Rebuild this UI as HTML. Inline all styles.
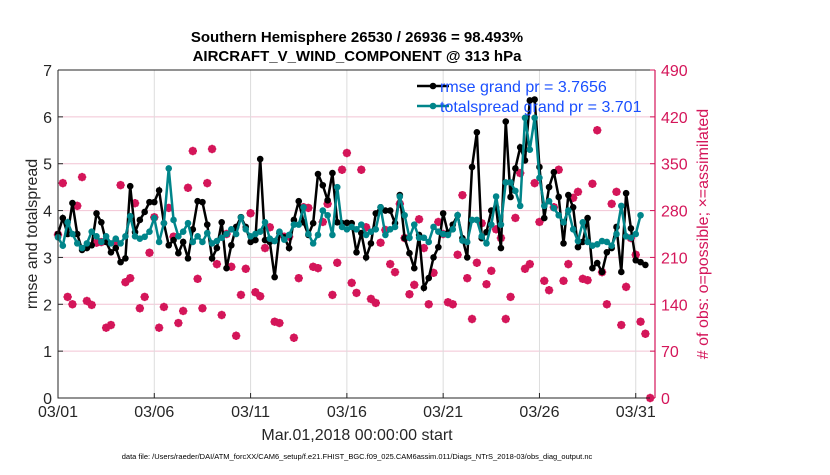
<!DOCTYPE html>
<html><head><meta charset="utf-8"><style>
body{margin:0;background:#fff;width:830px;height:470px;overflow:hidden}
svg{font-family:"Liberation Sans",sans-serif}
</style></head><body>
<svg id="c" width="830" height="470"></svg>
<script>
const dateLabels=["03/01","03/06","03/11","03/16","03/21","03/26","03/31"];
const dateDays=[0,5,10,15,20,25,30];
const leftTicks=[0,1,2,3,4,5,6,7];
const rightTicks=[0,70,140,210,280,350,420,490];
const rmse=[3.5,3.84,3.5,4.16,3.5,3.16,3.2,3.26,3.94,3.75,
3.33,3.11,3.2,2.9,2.98,4.52,3.54,3.8,3.97,4.18,
4.18,4.43,3.73,3.26,3.37,3.09,3.33,2.98,3.6,4.2,4.18,
3.7,2.98,3.2,3.75,2.77,3.26,3.65,3.86,3.65,3.33,
3.37,5.1,3.37,3.33,2.58,3.52,3.43,3.2,3.8,4.2,
3.75,3.48,3.73,4.78,4.54,4.22,4.8,3.75,3.73,3.74,
3.73,3.11,3.52,3.0,3.3,3.94,4.07,4.0,4.0,3.73,
4.33,3.41,3.09,2.77,3.48,2.35,2.56,3.0,3.22,3.94,
3.52,3.7,3.9,3.41,3.0,4.93,5.67,3.41,3.54,4.0,
4.07,3.2,5.9,4.29,4.9,5.35,5.07,6.35,6.37,4.93,
3.84,4.5,4.82,4.29,3.3,4.33,4.07,3.22,3.33,3.84,
2.77,2.88,2.69,3.11,3.2,3.65,2.69,4.37,3.62,2.94,2.9,2.84];
const spread=[3.43,3.25,3.75,3.5,3.3,3.2,3.3,3.55,3.45,3.33,3.45,3.3,3.4,3.3,3.45,3.88,3.45,3.4,3.44,3.55,3.84,3.33,3.73,4.9,3.8,3.45,3.55,3.73,3.33,3.45,3.33,3.52,
3.3,3.35,3.42,3.5,3.6,3.5,3.85,3.6,3.45,3.5,3.55,3.75,3.4,3.35,3.55,3.38,3.48,3.7,3.7,4.07,3.5,3.3,3.48,4.0,3.9,3.48,4.5,3.65,3.6,3.65,3.6,
3.7,3.48,3.55,3.6,4.07,3.48,3.6,3.65,4.3,3.9,3.42,3.7,3.42,3.42,3.33,3.65,3.55,3.5,3.48,3.6,3.9,3.36,3.33,3.8,3.8,3.45,3.3,3.7,4.3,3.7,4.6,
4.6,4.42,4.1,5.98,5.3,5.98,4.7,4.1,4.2,4.05,3.9,3.75,4.0,3.6,3.35,3.75,3.33,3.25,3.28,3.35,3.33,3.25,3.5,4.1,3.45,3.42,3.5,3.9];
const obs=[244,321,151,140,287,330,145,139,232,233,105,109,233,318,173,179,291,134,151,217,270,105,136,284,241,112,130,314,369,178,
134,321,372,200,124,245,196,93,154,193,276,158,152,224,255,114,112,241,241,90,179,285,284,196,194,263,290,154,202,341,366,172,
157,341,255,148,142,232,251,200,188,290,239,155,169,267,224,140,187,263,245,143,140,214,303,179,118,202,261,170,190,252,239,
118,151,269,336,193,200,321,263,175,161,285,341,175,200,299,308,178,176,320,400,188,140,290,308,109,166,239,214,114,96,0];
const X0=58,X1=655,Y0=398,Y1=70,DAYMAX=31;
const xs=d=>X0+d*(X1-X0)/DAYMAX;
const yl=v=>Y0-v*(Y0-Y1)/7;
const yr=v=>Y0-v*(Y0-Y1)/490;
const NS="http://www.w3.org/2000/svg";
const svg=document.getElementById('c');
function mk(t,a,p){const e=document.createElementNS(NS,t);for(const k in a)e.setAttribute(k,a[k]);(p||svg).appendChild(e);return e;}
const RED="#d41559",TEAL="#00858a";
const bg=mk('rect',{x:X0,y:Y1,width:X1-X0,height:Y0-Y1,fill:'#fff'});


rightTicks.forEach(t=>{const g=mk('line',{x1:X0,x2:X1,y1:yr(t),y2:yr(t),stroke:'#f2c4d4','stroke-width':1});

});
dateDays.forEach(d=>{const g=mk('line',{x1:xs(d),x2:xs(d),y1:Y1,y2:Y0,stroke:'#dcdcdc','stroke-width':1});

});
// legend markers (under data)
const lg=mk('g',{});


mk('line',{x1:417,x2:449,y1:86,y2:86,stroke:'#000','stroke-width':2.5},lg);
mk('circle',{cx:433,cy:86,r:3.3,fill:'#000'},lg);
mk('line',{x1:417,x2:449,y1:106,y2:106,stroke:TEAL,'stroke-width':2.5},lg);
mk('circle',{cx:433,cy:106,r:3.3,fill:TEAL},lg);
obs.forEach((v,i)=>{const cx=xs(i*0.25),cy=yr(v);
const g=mk('g',{});


mk('circle',{cx:cx,cy:cy,r:3.2,fill:'none',stroke:RED,'stroke-width':1.6},g);
const s=4.2;
mk('path',{d:`M${cx-s} ${cy}H${cx+s}M${cx} ${cy-s}V${cy+s}M${cx-3} ${cy-3}L${cx+3} ${cy+3}M${cx-3} ${cy+3}L${cx+3} ${cy-3}`,stroke:RED,'stroke-width':1.8},g);
});
function series(arr,col,name){
const g=mk('g',{});


mk('polyline',{points:arr.map((v,i)=>xs(i*0.25)+','+yl(v)).join(' '),fill:'none',stroke:col,'stroke-width':2.5},g);
arr.forEach((v,i)=>{const c=mk('circle',{cx:xs(i*0.25),cy:yl(v),r:3.3,fill:col},g);

});
}
series(rmse,'#000','rmse-line');
series(spread,TEAL,'totalspread-line');
const ax=mk('path',{d:`M${X0} ${Y1}V${Y0}H${X1}M${X0} ${Y1}H${X1}`,stroke:'#262626','stroke-width':1,fill:'none'});


const rax=mk('line',{x1:X1,x2:X1,y1:Y1,y2:Y0,stroke:RED,'stroke-width':1.2});


leftTicks.forEach(t=>{mk('line',{x1:X0,x2:X0+5,y1:yl(t),y2:yl(t),stroke:'#262626'});
const tx=mk('text',{x:X0-6,y:yl(t)+6,'text-anchor':'end','font-size':16,fill:'#262626'});tx.textContent=t;

});
rightTicks.forEach(t=>{mk('line',{x1:X1-5,x2:X1,y1:yr(t),y2:yr(t),stroke:RED});
const tx=mk('text',{x:X1+6,y:yr(t)+6,'font-size':16,fill:RED});tx.textContent=t;

});
dateDays.forEach((d,i)=>{mk('line',{x1:xs(d),x2:xs(d),y1:Y0,y2:Y0-5,stroke:'#262626'});
const tx=mk('text',{x:xs(d),y:417,'text-anchor':'middle','font-size':16,fill:'#262626'});tx.textContent=dateLabels[i];

});
</script>
<svg width="830" height="470" style="position:absolute;left:0;top:0">
<text x="440" y="92" font-size="16" fill="#1a4fff">rmse grand pr = 3.7656</text>
<text x="440" y="112" font-size="16" fill="#1a4fff">totalspread grand pr = 3.701</text>
<text x="357" y="42" font-size="15" font-weight="bold" text-anchor="middle" fill="#000">Southern Hemisphere 26530 / 26936 = 98.493%</text>
<text x="357" y="61" font-size="15" font-weight="bold" text-anchor="middle" fill="#000">AIRCRAFT_V_WIND_COMPONENT @ 313 hPa</text>
<text x="357" y="440" font-size="16" text-anchor="middle" fill="#262626">Mar.01,2018 00:00:00 start</text>
<text transform="translate(37,234) rotate(-90)" font-size="16" text-anchor="middle" fill="#262626">rmse and totalspread</text>
<text transform="translate(708,234) rotate(-90)" font-size="16" text-anchor="middle" fill="#d41559"># of obs: o=possible; ×=assimilated</text>
<text x="357" y="459" font-size="7.5" text-anchor="middle" fill="#000">data file: /Users/raeder/DAI/ATM_forcXX/CAM6_setup/f.e21.FHIST_BGC.f09_025.CAM6assim.011/Diags_NTrS_2018-03/obs_diag_output.nc</text>
</svg>
</body></html>
